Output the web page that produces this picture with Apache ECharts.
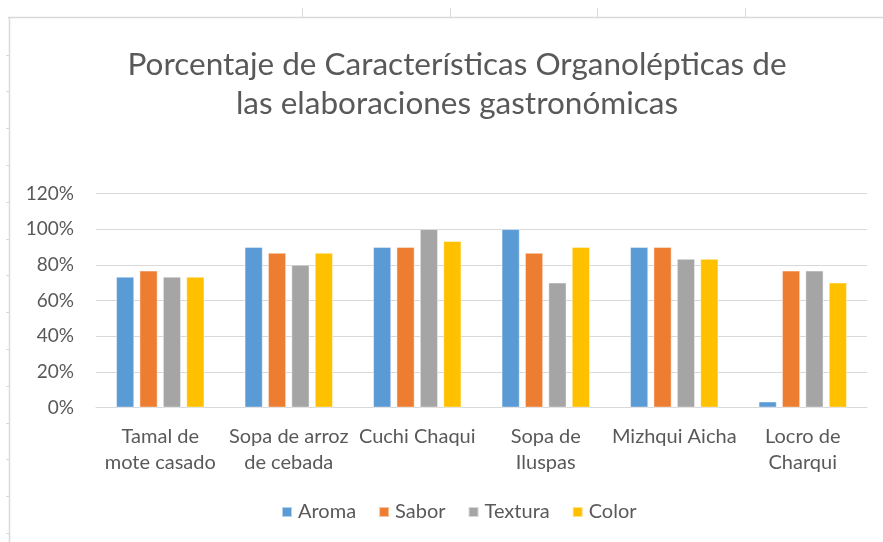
<!DOCTYPE html>
<html>
<head>
<meta charset="utf-8">
<script src="https://cdn.jsdelivr.net/npm/echarts@6/dist/echarts.min.js"></script>
<style>
  html, body { margin: 0; padding: 0; background: #ffffff; }
  #chart { width: 883px; height: 542px; }
</style>
</head>
<body>
<div id="chart"></div>
<script>
// Dishes evaluated
const categories = [
  'Tamal de\nmote casado',
  'Sopa de arroz\nde cebada',
  'Cuchi Chaqui',
  'Sopa de\nIluspas',
  'Mizhqui Aicha',
  'Locro de\nCharqui'
];

// Share of panelists rating each attribute positively (fraction)
const aroma   = [0.733, 0.900, 0.900, 1.000, 0.900, 0.033];
const sabor   = [0.767, 0.867, 0.900, 0.867, 0.900, 0.767];
const textura = [0.733, 0.800, 1.000, 0.700, 0.833, 0.767];
const color   = [0.733, 0.867, 0.933, 0.900, 0.833, 0.700];

const seriesNames = ['Aroma', 'Sabor', 'Textura', 'Color'];
const yTicks = [0, 0.2, 0.4, 0.6, 0.8, 1.0, 1.2];

const palette = ['#5B9BD5', '#ED7D31', '#A5A5A5', '#FFC000'];
const FONT = 'Lato, "Open Sans", sans-serif';
const TEXT = '#595959';
const LINE = '#d9d9d9';

// Spreadsheet cell borders around the chart frame
const sheet = [];
sheet.push({ type: 'line', shape: { x1: 8, y1: 17.5, x2: 883, y2: 17.5 }, style: { stroke: LINE, lineWidth: 1.5 } });
sheet.push({ type: 'line', shape: { x1: 9.5, y1: 17, x2: 9.5, y2: 542 }, style: { stroke: LINE, lineWidth: 1.5 } });
[302, 450, 597, 745].forEach(function (x) {
  sheet.push({ type: 'line', shape: { x1: x + 0.5, y1: 8, x2: x + 0.5, y2: 17 }, style: { stroke: LINE, lineWidth: 1 } });
});
for (let i = 0; i < 14; i++) {
  const y = Math.round(54.5 + i * 36.8) + 0.5;
  sheet.push({ type: 'line', shape: { x1: 6, y1: y, x2: 9, y2: y }, style: { stroke: LINE, lineWidth: 1 } });
}

const chart = echarts.init(document.getElementById('chart'), null, { renderer: 'canvas' });

chart.setOption({
  backgroundColor: '#ffffff',
  animation: false,
  color: palette,
  title: {
    text: 'Porcentaje de Características Organolépticas de\nlas elaboraciones gastronómicas',
    left: 452,
    top: 40,
    textAlign: 'center',
    textStyle: {
      fontFamily: FONT,
      fontSize: 31.5,
      fontWeight: 'normal',
      color: TEXT,
      lineHeight: 39
    }
  },
  legend: {
    data: seriesNames,
    left: 276,
    top: 497,
    icon: 'rect',
    itemWidth: 10,
    itemHeight: 10,
    itemGap: 22,
    textStyle: { fontFamily: FONT, fontSize: 20, color: TEXT, padding: [0, 0, 0, 1] }
  },
  grid: {
    left: 96,
    right: 16,
    top: 193.5,
    bottom: 134.5
  },
  xAxis: {
    type: 'category',
    data: categories,
    axisTick: { show: false },
    axisLine: { lineStyle: { color: LINE, width: 1 } },
    axisLabel: {
      interval: 0,
      fontFamily: FONT,
      fontSize: 20,
      color: TEXT,
      lineHeight: 26,
      margin: 16
    }
  },
  yAxis: {
    type: 'value',
    min: 0,
    max: 1.2,
    interval: 0.2,
    axisLine: { show: false },
    axisTick: { show: false },
    splitLine: { lineStyle: { color: LINE, width: 1 } },
    axisLabel: {
      fontFamily: FONT,
      fontSize: 19,
      color: TEXT,
      margin: 22,
      formatter: function (v) {
        const idx = yTicks.findIndex(function (t) { return Math.abs(t - v) < 1e-6; });
        return Math.round((idx >= 0 ? yTicks[idx] : v) * 100) + '%';
      }
    }
  },
  series: [aroma, sabor, textura, color].map(function (vals, i) {
    return {
      name: seriesNames[i],
      type: 'bar',
      data: vals,
      barWidth: 18,
      barGap: '30%',
      itemStyle: { borderColor: 'rgba(255,255,255,0.55)', borderWidth: 0.8 }
    };
  }),
  graphic: sheet
});
</script>
</body>
</html>
